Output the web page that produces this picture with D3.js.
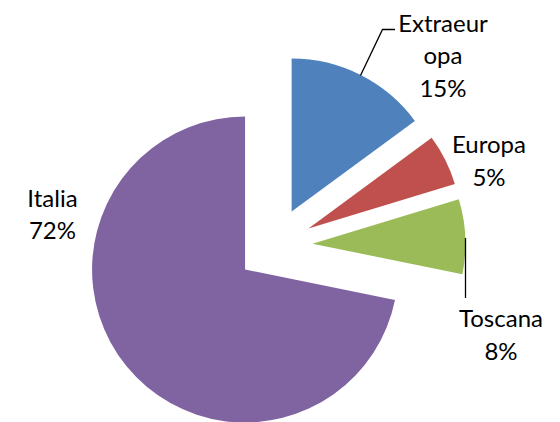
<!DOCTYPE html>
<html>
<head>
<meta charset="utf-8">
<script src="https://cdn.jsdelivr.net/npm/d3@7"></script>
<style>
  html, body { margin: 0; padding: 0; background: #fff; }
  svg { display: block; }
  text { font-family: Lato, "Open Sans", sans-serif; fill: #000; }
</style>
</head>
<body>
<svg id="chart" width="560" height="422"></svg>
<script>
// ---- data ----
const categories = ["Extraeuropa", "Europa", "Toscana", "Italia"];
const values = [14.9, 5.4, 7.9, 71.8];
const labelLines = [["Extraeur", "opa"], ["Europa"], ["Toscana"], ["Italia"]];
const colors = ["#4F81BD", "#C0504D", "#9BBB59", "#8064A2"];

// ---- layout ----
const W = 560, H = 422;
const cx = 274.5, cy = 245.5, R = 153, explode = 38;
const fontSize = 24, lineH = 32.5;
// label anchor: x centre, baseline of first line
const labelPos = [[443, 31.5], [489, 153], [501, 327], [52.5, 206.5]];
const leaders = [
  [[395, 29.5], [382.5, 29.5], [360.5, 75.5]],
  null,
  [[465.5, 238], [465.5, 298]],
  null
];

const svg = d3.select("#chart");
const total = d3.sum(values);
const data = categories.map((c, i) => ({ name: c, value: values[i], i }));

const pie = d3.pie().value(d => d.value).sort(null).startAngle(0).endAngle(2 * Math.PI);
const arc = d3.arc().innerRadius(0).outerRadius(R);
const arcs = pie(data);

const g = svg.append("g").attr("transform", `translate(${cx},${cy})`);
g.selectAll("path.slice")
  .data(arcs)
  .join("path")
  .attr("class", "slice")
  .attr("d", arc)
  .attr("fill", d => colors[d.data.i])
  .attr("transform", d => {
    const m = (d.startAngle + d.endAngle) / 2;
    return `translate(${explode * Math.sin(m)},${-explode * Math.cos(m)})`;
  });

// leader lines
const line = d3.line();
leaders.forEach(l => {
  if (!l) return;
  svg.append("path")
    .attr("d", line(l))
    .attr("fill", "none")
    .attr("stroke", "#000")
    .attr("stroke-width", 1.3);
});

// labels
arcs.forEach((d, k) => {
  const i = d.data.i;
  const pct = Math.round(d.data.value / total * 100) + "%";
  const lines = labelLines[i].concat([pct]);
  const t = svg.append("text")
    .attr("text-anchor", "middle")
    .attr("font-size", fontSize);
  lines.forEach((s, j) => {
    t.append("tspan")
      .attr("x", labelPos[i][0])
      .attr("y", labelPos[i][1] + j * lineH)
      .text(s);
  });
});
</script>
</body>
</html>
